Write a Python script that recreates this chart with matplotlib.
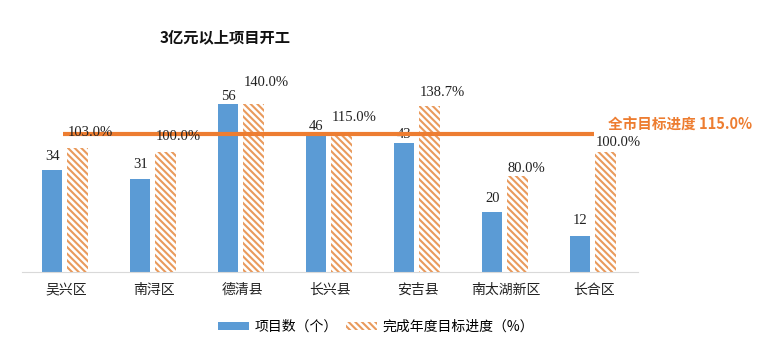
import matplotlib
matplotlib.use("Agg")
import matplotlib.pyplot as plt
import numpy as np

plt.rcParams['font.family'] = ['Noto Sans CJK SC', 'DejaVu Sans']
plt.rcParams['hatch.linewidth'] = 1.5

# data
districts = ["吴兴区", "南浔区", "德清县", "长兴县", "安吉县", "南太湖新区", "长合区"]
projects = [34, 31, 56, 46, 43, 20, 12]
progress = [103.0, 100.0, 140.0, 115.0, 138.7, 80.0, 100.0]
city_target = 115.0

# label lift above bar top (pixels), as placed in the source chart
proj_lift = [13, 15, 8, 7, 8, 14, 16]
prog_lift = [16, 16, 21, 16, 13, 8, 10]

blue = "#5B9BD5"
orange = "#ED7D31"
hatch_col = "#E99A5C"

fig = plt.figure(figsize=(7.68, 3.52), dpi=100)
ax = fig.add_axes([22 / 768, 80 / 352, 616 / 768, 192 / 352])
ax2 = ax.twinx()

x = np.arange(len(districts))
w = 0.23
ax.bar(x - 0.155, projects, w, color=blue, label="项目数（个）", zorder=2)
ax2.bar(x + 0.13, progress, w, facecolor="white", edgecolor=hatch_col,
        linewidth=0, hatch="\\\\\\\\\\", label="完成年度目标进度（%）", zorder=2)

ax.set_ylim(0, 64)
ax2.set_ylim(0, 160)
ax.set_xlim(-0.5, len(districts) - 0.5)

serif = ['Liberation Serif', 'DejaVu Serif']
for xi, v, d in zip(x, projects, proj_lift):
    ax.annotate(str(v), (xi - 0.155, v), xytext=(0, d), textcoords="offset pixels",
                ha="center", va="center", fontsize=10.5, family=serif, color="#222222",
                zorder=4)
for xi, v, d in zip(x, progress, prog_lift):
    ax2.annotate(f"{v:.1f}%", (xi + 0.13 - w / 2, v), xytext=(0, d), textcoords="offset pixels",
                 ha="left", va="center", fontsize=10.5, family=serif, color="#222222",
                 zorder=4)

# city-wide target line
ax2.hlines(city_target, -0.03, 6.0, color=orange, linewidth=3, zorder=3)
ax2.text(6.16, city_target + 7.5, "全市目标进度 115.0%", color=orange, fontsize=10.5,
         fontweight="bold", va="center", ha="left", clip_on=False)

for a in (ax, ax2):
    for s in ("top", "right", "left"):
        a.spines[s].set_visible(False)
    a.set_yticks([])
ax.spines["bottom"].set_color("#D9D9D9")
ax2.spines["bottom"].set_visible(False)
ax.set_xticks(x)
ax.set_xticklabels(districts, fontsize=10, color="#222222")
ax.tick_params(axis="x", length=0, pad=8)

fig.text(225 / 768, 1 - 37 / 352, "3亿元以上项目开工", fontsize=11, fontweight="bold",
         ha="center", va="center", color="#111111")

h1, l1 = ax.get_legend_handles_labels()
h2, l2 = ax2.get_legend_handles_labels()
fig.legend(h1 + h2, l1 + l2, loc="center", bbox_to_anchor=(376 / 768, 1 - 327 / 352),
           ncol=2, frameon=False, fontsize=10, handlelength=2.2, handleheight=0.55,
           columnspacing=0.6, handletextpad=0.4)

fig.savefig("out.png", dpi=100)
